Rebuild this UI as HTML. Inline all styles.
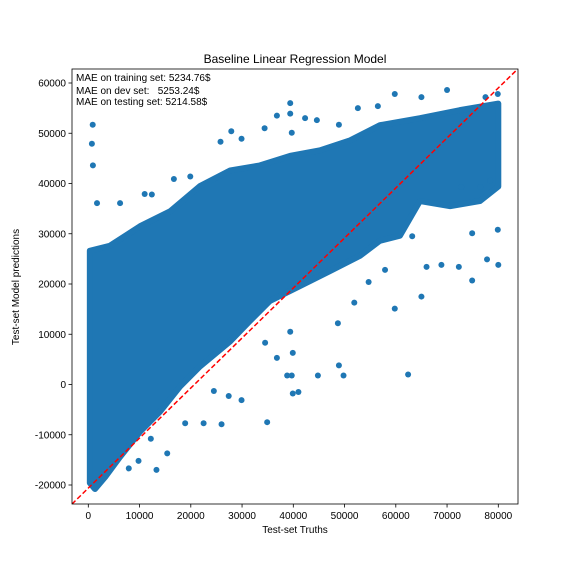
<!DOCTYPE html>
<html><head><meta charset="utf-8"><style>
body{margin:0;background:#fff;}
svg{font-family:"Liberation Sans","DejaVu Sans",sans-serif;}
</style></head><body>
<svg id="chart" width="576" height="576" viewBox="0 0 576 576">
<rect width="576" height="576" fill="#fff"/>
<text x="295" y="63" font-size="12" text-anchor="middle">Baseline Linear Regression Model</text>
<defs><clipPath id="clip"><rect x="72" y="69" width="446" height="435"/></clipPath></defs>
<g id="marks" clip-path="url(#clip)"></g>
<g id="axes"></g>
<text x="76" y="81" font-size="10">MAE on training set: 5234.76$</text>
<text x="76" y="94" font-size="10" xml:space="preserve">MAE on dev set:   5253.24$</text>
<text x="76" y="105" font-size="10">MAE on testing set: 5214.58$</text>
<text x="295" y="533" font-size="10" text-anchor="middle">Test-set Truths</text>
<text transform="translate(19,287) rotate(-90)" font-size="10" text-anchor="middle">Test-set Model predictions</text>
</svg>
<script>
const xTicks=[0,10000,20000,30000,40000,50000,60000,70000,80000];
const yTicks=[-20000,-10000,0,10000,20000,30000,40000,50000,60000];
const refLineX=[-3200,83800];
const refLineY=[-23800,62800];
const cloudX=[300,300,4200,10100,16000,21800,27700,33500,39400,45200,51100,56900,64700,72500,80000,80000,76400,70600,64700,60800,56900,53000,47200,41300,35400,31500,27700,21800,17900,14000,10100,6200,3300,1300];
const cloudY=[-19600,26600,27600,31500,34500,39500,42600,43600,45500,46600,48600,51600,53000,54600,55900,39400,36500,35500,36500,29600,28600,25600,22600,19600,16600,12600,8600,3600,-400,-5400,-9400,-14400,-18400,-20800];
const outX=[860,700,900,39400,39400,59800,70000,79900,62400,51900,48700,34900,26000,18900,22500,13300,15400,7900,1700,80000,74900,65000,59800,68900,77800,72300,48900,49800,44800,39700,38800,41000,39900,29900,27400,24500,36800,39900,39400,34500,9800,12200,74900,78400,79900,63200,66000,57900,54700,76500,72800,27900,25800,29900,44600,42300,48900,52600,56500,65000,77500,11000,12400,6200,1700,16700,19900,36800,34400,39700];
const outY=[51700,47900,43600,56000,53900,57800,58600,57800,2000,16300,12200,-7500,-7900,-7700,-7700,-17000,-13700,-16700,-20000,23800,20700,17500,15100,23800,24900,23400,3800,1800,1800,1800,1800,-1500,-1800,-3100,-2300,-1300,5300,6300,10500,8300,-15200,-10800,30100,40600,30800,29500,23400,22800,20400,39300,39300,50400,48300,48900,52600,53000,51700,55000,55400,57200,57200,37900,37800,36100,36100,40900,41400,53500,51000,50100];
const X0=88.3,XS=51.25/10000,Y0=384.5,YS=50.25/10000;
function sx(v){return X0+v*XS;}
function sy(v){return Y0-v*YS;}
const NS='http://www.w3.org/2000/svg';
const marks=document.getElementById('marks'),axes=document.getElementById('axes');
const C='#1f77b4';
let pts=cloudX.map((x,i)=>sx(x)+','+sy(cloudY[i])).join(' ');
const poly=document.createElementNS(NS,'polygon');
poly.setAttribute('points',pts);poly.setAttribute('fill',C);poly.setAttribute('stroke',C);poly.setAttribute('stroke-width','6');poly.setAttribute('stroke-linejoin','round');


marks.appendChild(poly);
outX.forEach((x,i)=>{const c=document.createElementNS(NS,'circle');
c.setAttribute('cx',sx(x));c.setAttribute('cy',sy(outY[i]));c.setAttribute('r',3);c.setAttribute('fill',C);


marks.appendChild(c);});
const dl=document.createElementNS(NS,'line');
dl.setAttribute('x1',sx(refLineX[0]));dl.setAttribute('y1',sy(refLineY[0]));dl.setAttribute('x2',sx(refLineX[1]));dl.setAttribute('y2',sy(refLineY[1]));
dl.setAttribute('stroke','red');dl.setAttribute('stroke-width','1.5');dl.setAttribute('stroke-dasharray','5,2.5');


marks.appendChild(dl);
const fr=document.createElementNS(NS,'rect');
fr.setAttribute('x',72);fr.setAttribute('y',69);fr.setAttribute('width',446);fr.setAttribute('height',435);fr.setAttribute('fill','none');fr.setAttribute('stroke','#000');fr.setAttribute('stroke-width','0.8');


axes.appendChild(fr);
xTicks.forEach(t=>{const x=sx(t);
const l=document.createElementNS(NS,'line');l.setAttribute('x1',x);l.setAttribute('x2',x);l.setAttribute('y1',504);l.setAttribute('y2',507.5);l.setAttribute('stroke','#000');l.setAttribute('stroke-width','0.8');


axes.appendChild(l);
const tx=document.createElementNS(NS,'text');tx.setAttribute('x',x);tx.setAttribute('y',519);tx.setAttribute('font-size','10');tx.setAttribute('text-anchor','middle');tx.textContent=t;


axes.appendChild(tx);});
yTicks.forEach(t=>{const y=sy(t);
const l=document.createElementNS(NS,'line');l.setAttribute('x1',68.5);l.setAttribute('x2',72);l.setAttribute('y1',y);l.setAttribute('y2',y);l.setAttribute('stroke','#000');l.setAttribute('stroke-width','0.8');


axes.appendChild(l);
const tx=document.createElementNS(NS,'text');tx.setAttribute('x',66);tx.setAttribute('y',y+3.5);tx.setAttribute('font-size','10');tx.setAttribute('text-anchor','end');tx.textContent=t;


axes.appendChild(tx);});
</script>
</body></html>
